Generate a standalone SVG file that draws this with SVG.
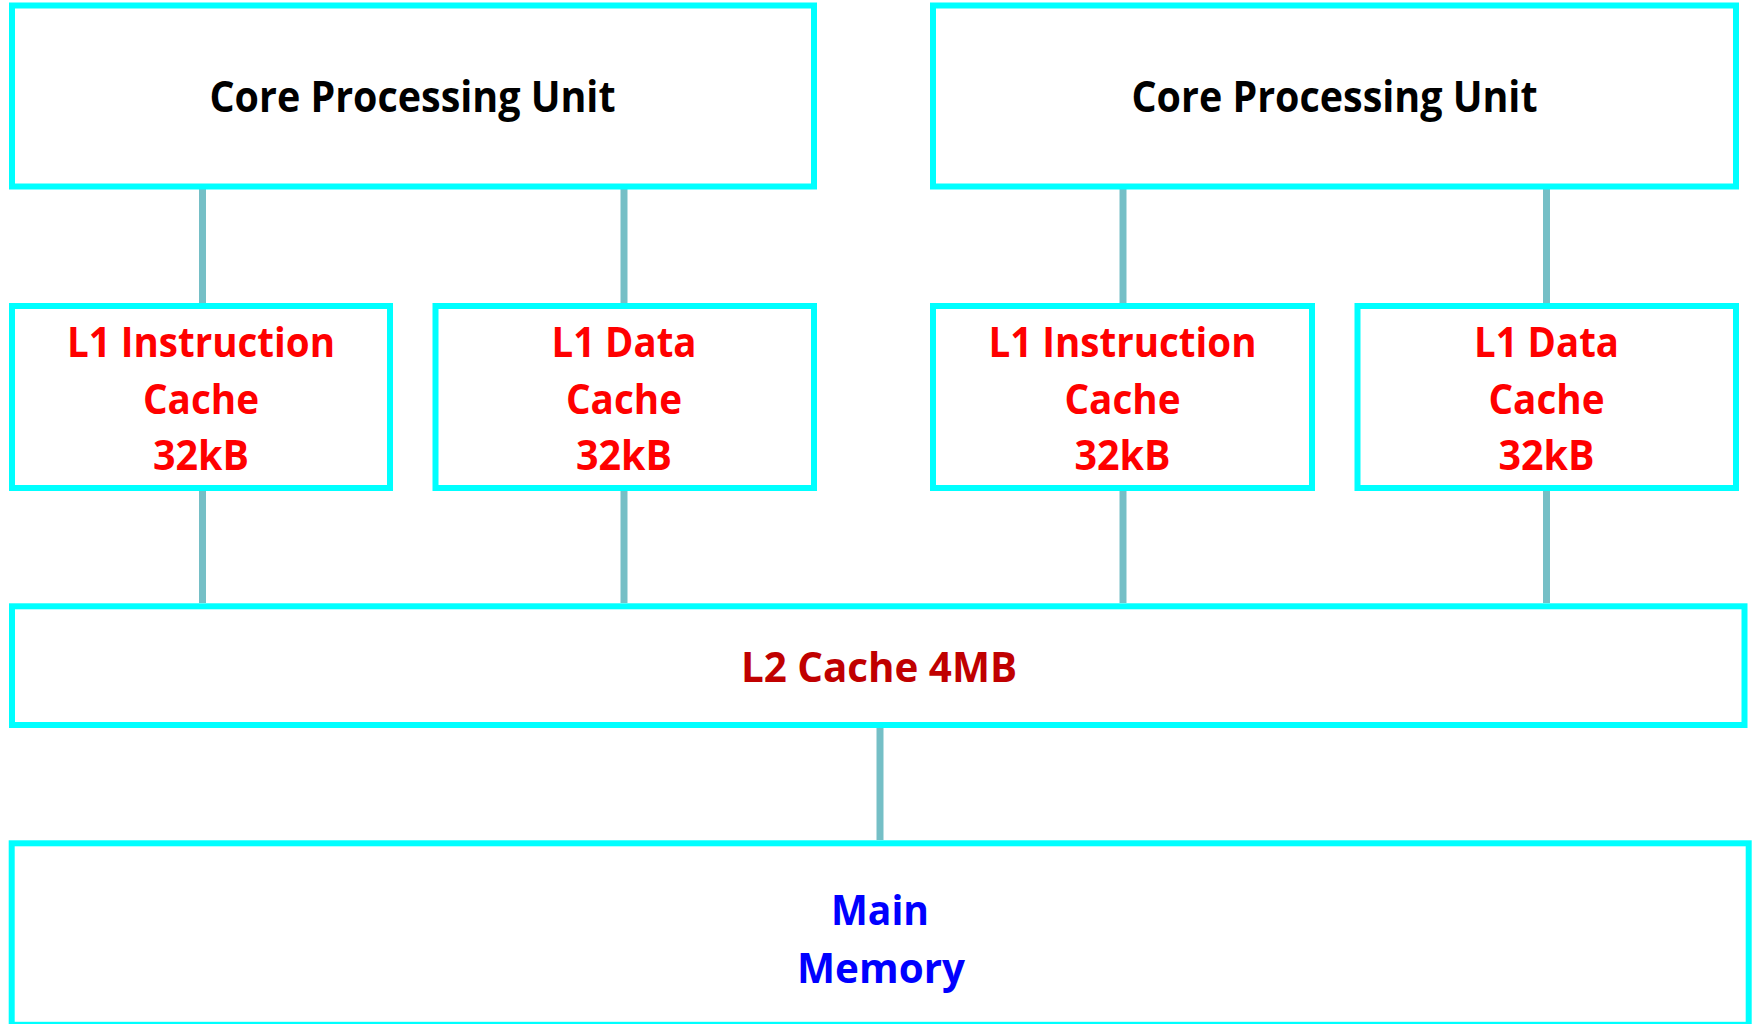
<svg xmlns="http://www.w3.org/2000/svg" width="1752" height="1024" viewBox="0 0 1752 1024">
  <style>
    .box { fill: #FFFFFF; stroke: #00FFFF; stroke-width: 6; }
    .conn { stroke: #75BFC6; stroke-width: 7; fill: none; }
    .t { font-family: "Open Sans", "Liberation Sans", sans-serif; font-weight: bold; text-anchor: middle; }
    .core { fill: #000000; font-size: 43px; }
    .l1 { fill: #FF0000; font-size: 41px; }
    .l2 { fill: #C00000; font-size: 42px; }
    .mem { fill: #0000FF; font-size: 42px; }
  </style>
  <rect width="1752" height="1024" fill="#FFFFFF"/>
  <g id="connectors">
    <line class="conn" x1="202.5" y1="189" x2="202.5" y2="303"/>
    <line class="conn" x1="624" y1="189" x2="624" y2="303"/>
    <line class="conn" x1="1123" y1="189" x2="1123" y2="303"/>
    <line class="conn" x1="1546.5" y1="189" x2="1546.5" y2="303"/>
    <line class="conn" x1="202.5" y1="491" x2="202.5" y2="603"/>
    <line class="conn" x1="624" y1="491" x2="624" y2="603"/>
    <line class="conn" x1="1123" y1="491" x2="1123" y2="603"/>
    <line class="conn" x1="1546.5" y1="491" x2="1546.5" y2="603"/>
    <line class="conn" x1="880" y1="728" x2="880" y2="840"/>
  </g>
  <g id="core1">
    <rect class="box" x="12" y="5.5" width="802" height="181"/>
    <text class="t core" x="412.5" y="112" textLength="406" lengthAdjust="spacingAndGlyphs">Core Processing Unit</text>
  </g>
  <g id="core2">
    <rect class="box" x="933" y="5.5" width="803" height="181"/>
    <text class="t core" x="1334.5" y="112" textLength="406" lengthAdjust="spacingAndGlyphs">Core Processing Unit</text>
  </g>
  <g id="l1i-1">
    <rect class="box" x="12" y="306" width="378" height="182"/>
    <text class="t l1" x="201" y="357" textLength="268" lengthAdjust="spacingAndGlyphs">L1 Instruction</text>
    <text class="t l1" x="201" y="413.5" textLength="116" lengthAdjust="spacingAndGlyphs">Cache</text>
    <text class="t l1" x="201" y="469.5" textLength="96" lengthAdjust="spacingAndGlyphs">32kB</text>
  </g>
  <g id="l1d-1">
    <rect class="box" x="435.5" y="306" width="378.5" height="182"/>
    <text class="t l1" x="624" y="357" textLength="145" lengthAdjust="spacingAndGlyphs">L1 Data</text>
    <text class="t l1" x="624" y="413.5" textLength="116" lengthAdjust="spacingAndGlyphs">Cache</text>
    <text class="t l1" x="624" y="469.5" textLength="96" lengthAdjust="spacingAndGlyphs">32kB</text>
  </g>
  <g id="l1i-2">
    <rect class="box" x="933" y="306" width="379" height="182"/>
    <text class="t l1" x="1122.5" y="357" textLength="268" lengthAdjust="spacingAndGlyphs">L1 Instruction</text>
    <text class="t l1" x="1122.5" y="413.5" textLength="116" lengthAdjust="spacingAndGlyphs">Cache</text>
    <text class="t l1" x="1122.5" y="469.5" textLength="96" lengthAdjust="spacingAndGlyphs">32kB</text>
  </g>
  <g id="l1d-2">
    <rect class="box" x="1357.5" y="306" width="378.5" height="182"/>
    <text class="t l1" x="1546.5" y="357" textLength="145" lengthAdjust="spacingAndGlyphs">L1 Data</text>
    <text class="t l1" x="1546.5" y="413.5" textLength="116" lengthAdjust="spacingAndGlyphs">Cache</text>
    <text class="t l1" x="1546.5" y="469.5" textLength="96" lengthAdjust="spacingAndGlyphs">32kB</text>
  </g>
  <g id="l2">
    <rect class="box" x="12" y="606.3" width="1732.5" height="118.7"/>
    <text class="t l2" x="879" y="681.7" textLength="276" lengthAdjust="spacingAndGlyphs">L2 Cache 4MB</text>
  </g>
  <g id="main-memory">
    <rect class="box" x="11.7" y="843.3" width="1737" height="181.5"/>
    <text class="t mem" x="880" y="925" textLength="98" lengthAdjust="spacingAndGlyphs">Main</text>
    <text class="t mem" x="881" y="983" textLength="168" lengthAdjust="spacingAndGlyphs">Memory</text>
  </g>
</svg>
